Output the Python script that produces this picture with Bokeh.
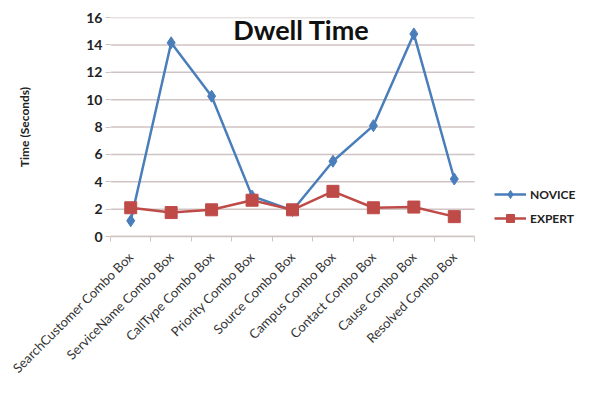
import math
from bokeh.plotting import figure
from bokeh.models import (FixedTicker, Legend, LegendItem, Label, Range1d)
from bokeh.embed import file_html
from bokeh.resources import INLINE

categories = ["SearchCustomer Combo Box", "ServiceName Combo Box", "CallType Combo Box",
              "Priority Combo Box", "Source Combo Box", "Campus Combo Box",
              "Contact Combo Box", "Cause Combo Box", "Resolved Combo Box"]
novice = [1.15, 14.15, 10.25, 2.95, 1.9, 5.5, 8.1, 14.8, 4.2]
expert = [2.1, 1.75, 1.95, 2.65, 1.95, 3.3, 2.1, 2.15, 1.45]
y_ticks = [0, 2, 4, 6, 8, 10, 12, 14, 16]

n = len(categories)
xs = [i + 0.5 for i in range(n)]

W, H = 577, 386
LEFT = 110
PLOT_W = 364          # width of the category area in px
x_end = n * (W - LEFT) / PLOT_W   # extra room on the right holds the legend

p = figure(width=W, height=H, output_backend="svg", toolbar_location=None,
           x_range=Range1d(0, x_end), y_range=Range1d(0, 16),
           min_border_left=LEFT, min_border_right=0, min_border_top=17, min_border_bottom=150)
p.border_fill_color = "white"
p.background_fill_color = "white"
p.outline_line_color = None

grid_col = "#d0c3c3"
p.xgrid.visible = False
p.ygrid.visible = False
# horizontal gridlines limited to the category area
p.segment(x0=[0] * len(y_ticks), x1=[n] * len(y_ticks), y0=y_ticks, y1=y_ticks,
          line_color=grid_col, line_width=1.5)

# y axis
p.yaxis.ticker = FixedTicker(ticks=y_ticks)
p.yaxis.axis_line_color = None
p.yaxis.major_tick_line_color = grid_col
p.yaxis.major_tick_out = 5
p.yaxis.major_tick_in = 0
p.yaxis.minor_tick_line_color = None
p.yaxis.major_label_text_font = "Lato"
p.yaxis.major_label_text_font_style = "bold"
p.yaxis.major_label_text_font_size = "14px"
p.yaxis.major_label_text_color = "#222222"
p.yaxis.major_label_standoff = 3
p.yaxis.axis_label = "Time (Seconds)"
p.yaxis.axis_label_text_font = "Lato"
p.yaxis.axis_label_text_font_style = "bold"
p.yaxis.axis_label_text_font_size = "12px"
p.yaxis.axis_label_text_color = "#222222"
p.yaxis.axis_label_standoff = 51

# x axis
p.xaxis.bounds = (0, n)
p.xaxis.ticker = FixedTicker(ticks=xs, minor_ticks=list(range(n + 1)))
p.xaxis.major_label_overrides = {x: c for x, c in zip(xs, categories)}
p.xaxis.major_label_orientation = math.pi / 4
p.xaxis.axis_line_color = grid_col
p.xaxis.axis_line_width = 1.5
p.xaxis.major_tick_line_color = None
p.xaxis.minor_tick_line_color = grid_col
p.xaxis.minor_tick_out = 5
p.xaxis.minor_tick_in = 0
p.xaxis.major_label_text_font = "Lato"
p.xaxis.major_label_text_font_size = "13px"
p.xaxis.major_label_text_color = "#333333"
p.xaxis.major_label_standoff = 12

blue = "#4a7ebb"
red = "#be4b48"
l1 = p.line(xs, novice, line_color=blue, line_width=2.5)
s1 = p.scatter(xs, novice, marker="diamond", size=12, fill_color=blue, line_color=blue)
l2 = p.line(xs, expert, line_color=red, line_width=2.5)
s2 = p.scatter(xs, expert, marker="square", size=12, fill_color=red, line_color=red)

legend = Legend(items=[LegendItem(label="NOVICE", renderers=[l1, s1]),
                       LegendItem(label="EXPERT", renderers=[l2, s2])],
                location=(384, 8), glyph_width=32, glyph_height=20, label_standoff=4,
                label_text_font="Lato", label_text_font_style="bold",
                label_text_font_size="12px", label_text_color="#222222",
                spacing=4, padding=0, margin=0, border_line_color=None,
                background_fill_alpha=0)
p.add_layout(legend, "center")

title = Label(x=4.72, y=15.1, text="Dwell Time", text_align="center", text_baseline="middle",
              text_font="Lato", text_font_style="bold", text_font_size="27px", text_color="#111111")
p.add_layout(title)

open("out.html", "w").write(file_html(p, INLINE))
